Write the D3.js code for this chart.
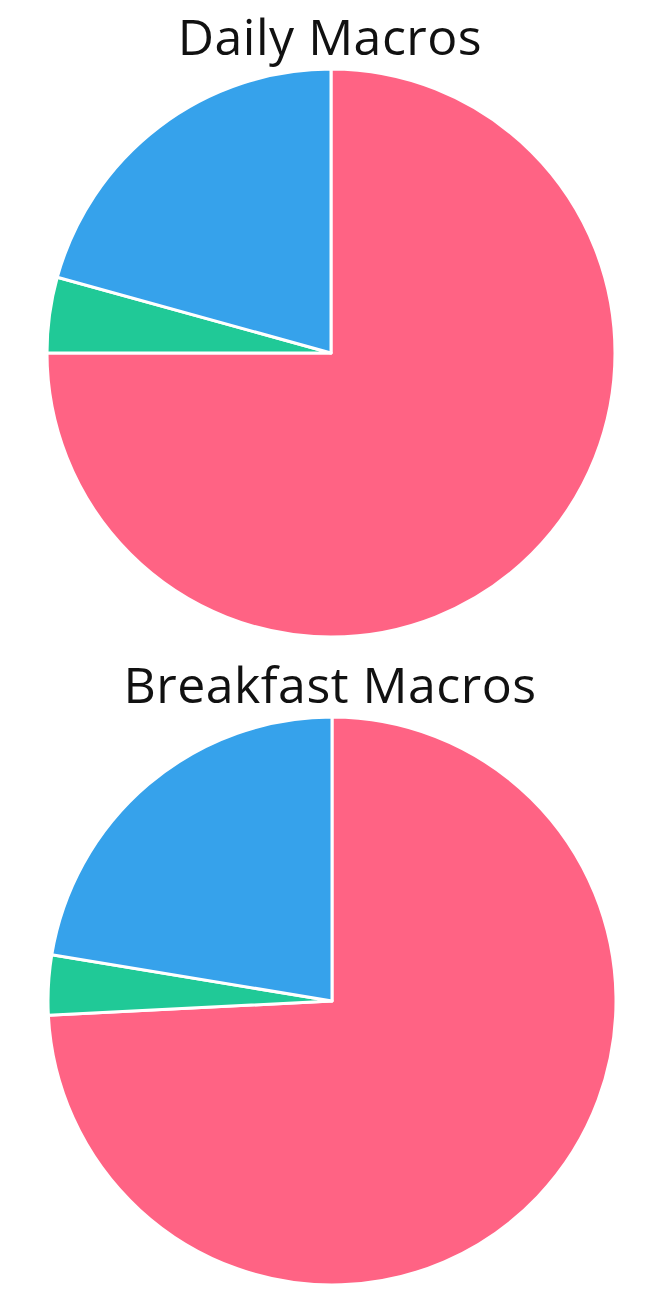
<!DOCTYPE html>
<html>
<head>
<meta charset="utf-8">
<script src="https://cdn.jsdelivr.net/npm/d3@7"></script>
<style>
  body { margin: 0; background: #fff; }
  svg { display: block; }
</style>
</head>
<body>
<div id="vis"></div>
<script>
// macro split, in percent
const macros = ["Carbs", "Fat", "Protein"];
const dailyValues = [75.0, 4.3, 20.7];
const breakfastValues = [74.2, 3.4, 22.4];
const colors = ["#ff6384", "#20c997", "#36a2eb"];

const charts = [
  { title: "Daily Macros", values: dailyValues, cx: 331, cy: 353, ty: 55 },
  { title: "Breakfast Macros", values: breakfastValues, cx: 332, cy: 1001, ty: 703 }
];

const width = 660, height = 1300, radius = 284;

const svg = d3.select("#vis")
  .append("svg")
  .attr("width", width)
  .attr("height", height);

const color = d3.scaleOrdinal()
  .domain(macros)
  .range(colors);

const pie = d3.pie()
  .sort(null)
  .value(d => d.value);

const arc = d3.arc()
  .innerRadius(0)
  .outerRadius(radius);

charts.forEach(c => {
  const rows = macros.map((m, i) => ({ name: m, value: c.values[i] }));

  svg.append("text")
    .attr("x", width / 2)
    .attr("y", c.ty)
    .attr("text-anchor", "middle")
    .style("font-family", "'Open Sans', sans-serif")
    .style("font-size", "50px")
    .style("letter-spacing", "0.5px")
    .style("fill", "#111")
    .text(c.title);

  const g = svg.append("g")
    .attr("transform", `translate(${c.cx},${c.cy})`);

  g.selectAll("path")
    .data(pie(rows))
    .enter()
    .append("path")
    .attr("d", arc)
    .attr("fill", d => color(d.data.name))
    .attr("stroke", "#fff")
    .attr("stroke-width", 3)
    .attr("stroke-linejoin", "round");
});
</script>
</body>
</html>
